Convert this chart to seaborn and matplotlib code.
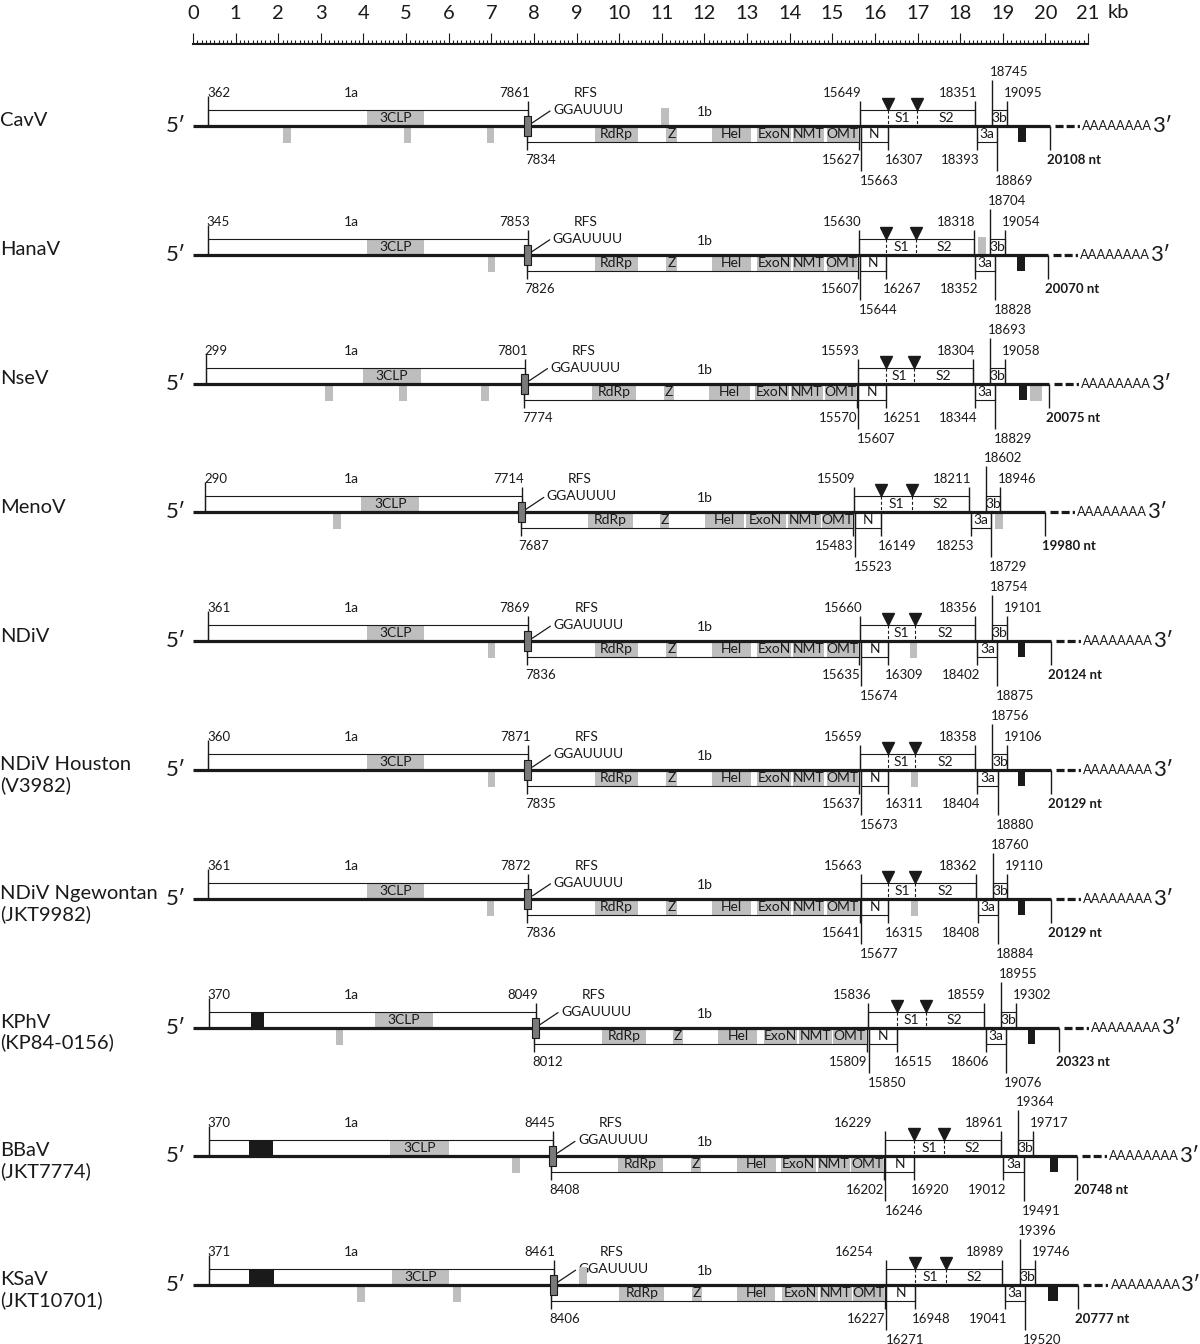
import matplotlib
matplotlib.use('Agg')
import matplotlib.pyplot as plt
from matplotlib.patches import Rectangle
import seaborn as sns

# genome coordinates (nt)
names = ['CavV', 'HanaV', 'NseV', 'MenoV', 'NDiV',
         'NDiV Houston\n(V3982)', 'NDiV Ngewontan\n(JKT9982)',
         'KPhV\n(KP84-0156)', 'BBaV\n(JKT7774)', 'KSaV\n(JKT10701)']
orf1a_start = [362, 345, 299, 290, 361, 360, 361, 370, 370, 371]
orf1a_end = [7861, 7853, 7801, 7714, 7869, 7871, 7872, 8049, 8445, 8461]
orf1b_start = [7834, 7826, 7774, 7687, 7836, 7835, 7836, 8012, 8408, 8406]
orf1b_end = [15627, 15607, 15570, 15483, 15635, 15637, 15641, 15809, 16202, 16227]
s_start = [15649, 15630, 15593, 15509, 15660, 15659, 15663, 15836, 16229, 16254]
s_end = [18351, 18318, 18304, 18211, 18356, 18358, 18362, 18559, 18961, 18989]
n_start = [15663, 15644, 15607, 15523, 15674, 15673, 15677, 15850, 16246, 16271]
n_end = [16307, 16267, 16251, 16149, 16309, 16311, 16315, 16515, 16920, 16948]
s1s2_site = [16980, 16960, 16920, 16870, 16950, 16950, 16950, 17190, 17620, 17660]
orf3a_start = [18393, 18352, 18344, 18253, 18402, 18404, 18408, 18606, 19012, 19041]
orf3a_end = [18869, 18828, 18829, 18729, 18875, 18880, 18884, 19076, 19491, 19520]
orf3b_start = [18745, 18704, 18693, 18602, 18754, 18756, 18760, 18955, 19364, 19396]
orf3b_end = [19095, 19054, 19058, 18946, 19101, 19106, 19110, 19302, 19717, 19746]
genome_len = [20108, 20070, 20075, 19980, 20124, 20129, 20129, 20323, 20748, 20777]

# domain extents (kb), estimated
clp_kb = [(4.08, 5.42), (4.08, 5.42), (4.00, 5.34), (3.95, 5.31), (4.08, 5.42),
          (4.08, 5.42), (4.08, 5.42), (4.28, 5.62), (4.63, 6.01), (4.67, 6.01)]
rdrp_kb = [(9.43, 10.44), (9.43, 10.44), (9.36, 10.39), (9.26, 10.32), (9.43, 10.44),
           (9.43, 10.44), (9.43, 10.44), (9.59, 10.63), (9.97, 11.03), (10.00, 11.06)]
zn_kb = [(11.10, 11.35), (11.10, 11.35), (11.05, 11.29), (10.95, 11.18), (11.10, 11.35),
         (11.10, 11.35), (11.10, 11.35), (11.27, 11.50), (11.69, 11.92), (11.71, 11.95)]
hel_kb = [(12.18, 13.09), (12.18, 13.09), (12.11, 13.07), (12.01, 12.92), (12.18, 13.09),
          (12.18, 13.09), (12.18, 13.09), (12.33, 13.24), (12.76, 13.67), (12.77, 13.66)]
exon_kb = [(13.24, 14.03), (13.24, 14.03), (13.19, 13.98), (12.97, 13.91), (13.24, 14.03),
           (13.24, 14.03), (13.24, 14.03), (13.40, 14.18), (13.79, 14.61), (13.82, 14.67)]
nmt_kb = [(14.08, 14.81), (14.08, 14.81), (14.03, 14.78), (13.95, 14.73), (14.08, 14.81),
          (14.08, 14.81), (14.08, 14.81), (14.23, 14.99), (14.66, 15.42), (14.70, 15.46)]
omt_kb = [(14.87, 15.60), (14.87, 15.58), (14.82, 15.55), (14.76, 15.46), (14.87, 15.61),
          (14.87, 15.61), (14.87, 15.62), (15.02, 15.78), (15.45, 16.18), (15.49, 16.21)]
domains_1b = [('RdRp', rdrp_kb), ('Z', zn_kb), ('Hel', hel_kb), ('ExoN', exon_kb),
              ('NMT', nmt_kb), ('OMT', omt_kb)]

# small markers (kb)
grey_below = [[(2.11, 2.30), (4.95, 5.12), (6.90, 7.06)],
              [(6.92, 7.09)],
              [(3.09, 3.28), (4.83, 5.02), (6.76, 6.95), (19.64, 19.92)],
              [(3.29, 3.47), (18.81, 19.00)],
              [(6.92, 7.09), (16.82, 16.99)],
              [(6.92, 7.09), (16.84, 17.01)],
              [(6.90, 7.07), (16.84, 17.01)],
              [(3.36, 3.51)],
              [(7.48, 7.68)],
              [(3.85, 4.04), (6.11, 6.29)]]
grey_above = [[(10.98, 11.17)], [(18.42, 18.61)], [], [], [], [], [], [], [], [(9.06, 9.25)]]
black_below = [[(19.36, 19.55)], [(19.33, 19.52)], [(19.39, 19.58)], [], [(19.36, 19.53)],
               [(19.36, 19.53)], [(19.36, 19.53)], [(19.59, 19.76)], [(20.11, 20.30)],
               [(20.06, 20.30)]]
black_in_1a = [[], [], [], [], [], [], [], [(1.35, 1.67)], [(1.32, 1.87)], [(1.32, 1.91)]]
s_label_shift = [2, 2, 2, 2, 2, 2, 2, 4, -12, -12]

ruler_ticks = list(range(0, 22))

sns.set_theme(style='white')
plt.rcParams['font.family'] = ['Lato', 'DejaVu Sans']
plt.rcParams['lines.scale_dashes'] = False

W, H = 1200, 1344
X0, X21 = 193, 1088
PX = (X21 - X0) / 21.0
INK = '#1a1a1a'
GREY = '#bebebe'
BOX = 16
NUM = 9.5
LAB = 10

fig = plt.figure(figsize=(W / 100, H / 100), dpi=100)
ax = fig.add_axes([0, 0, 1, 1])
ax.set_xlim(-X0 / PX, (W - X0) / PX)
ax.set_ylim(H, 0)
ax.axis('off')


def p(n):
    return n / PX


def box(x0, x1, top, fc='white', z=2, outline=True):
    ax.add_patch(Rectangle((x0, top), x1 - x0, BOX, fc=fc, ec='none', zorder=z))
    if outline:
        ax.add_patch(Rectangle((x0, top), x1 - x0, BOX, fill=False, ec=INK, lw=0.8, zorder=4))


def vline(x, ya, yb):
    ax.plot([x, x], [ya, yb], color=INK, lw=1.0, zorder=5, solid_capstyle='butt')


def txt(x, y, s, ha='center', size=NUM, **kw):
    ax.text(x, y, s, ha=ha, va='center', fontsize=size, color=INK, **kw)


for i, name in enumerate(names):
    y0 = 126 + i * 128.8
    L = genome_len[i] / 1000
    a0, a1 = orf1a_start[i] / 1000, orf1a_end[i] / 1000
    b0, b1 = orf1b_start[i] / 1000, orf1b_end[i] / 1000
    s0, s1 = s_start[i] / 1000, s_end[i] / 1000
    n0, n1 = n_start[i] / 1000, n_end[i] / 1000
    c0, c1 = orf3a_start[i] / 1000, orf3a_end[i] / 1000
    d0, d1 = orf3b_start[i] / 1000, orf3b_end[i] / 1000
    cut = s1s2_site[i] / 1000

    # name and 5' end
    if '\n' in name:
        ax.text(-X0 / PX, y0 + 5, name, ha='left', va='center', fontsize=14.5,
                color=INK, linespacing=1.2)
    else:
        ax.text(-X0 / PX, y0 - 5, name, ha='left', va='center', fontsize=14.5, color=INK)
    txt(p(-17), y0, '5\u2032', size=16)

    # backbone
    ax.plot([0, L], [y0, y0], color=INK, lw=2.3, zorder=6, solid_capstyle='butt')

    # ORF1a
    box(a0, a1, y0 - BOX, outline=False)
    g0, g1 = clp_kb[i]
    box(g0, g1, y0 - BOX, fc=GREY, z=3, outline=False)
    txt((g0 + g1) / 2, y0 - 8, '3CLP', size=LAB)
    for m0, m1 in black_in_1a[i]:
        box(m0, m1, y0 - BOX, fc=INK, z=3, outline=False)
    box(a0, a1, y0 - BOX, fc='none', z=1)
    vline(a0, y0 - 30, y0)
    vline(a1, y0 - 25, y0)
    txt(a0 - p(1), y0 - 33, str(orf1a_start[i]), ha='left')
    txt(a1 + p(2), y0 - 33, str(orf1a_end[i]), ha='right')
    txt(3.72, y0 - 33, '1a', size=LAB)

    # ORF1b
    box(b0, b1, y0, outline=False)
    for lab, ext in domains_1b:
        e0, e1 = ext[i]
        box(e0, e1, y0, fc=GREY, z=3, outline=False)
        txt((e0 + e1) / 2, y0 + 8, lab, size=LAB)
    box(b0, b1, y0, fc='none', z=1)
    vline(b0, y0, y0 + 24)
    vline(b1, y0, y0 + 24)
    txt(b0 - p(2), y0 + 34, str(orf1b_start[i]), ha='left')
    txt(b1 + p(1), y0 + 34, str(orf1b_end[i]), ha='right')
    txt(12.0, y0 - 14, '1b', size=LAB)

    # ribosomal frameshift site
    ax.add_patch(Rectangle((a1 - p(4), y0 - 10), p(7), 20, fc='#7a7a7a', ec=INK,
                           lw=0.8, zorder=7))
    ax.plot([a1 + p(4), a1 + p(22)], [y0 - 3, y0 - 15], color=INK, lw=0.9, zorder=7)
    txt(a1 + p(25), y0 - 16, 'GGAUUUU', ha='left', size=LAB)
    txt(a1 + p(58), y0 - 33, 'RFS', size=LAB)

    # spike
    box(s0, s1, y0 - BOX)
    vline(s0, y0 - 25, y0)
    vline(s1, y0 - 25, y0)
    txt(s0 + p(s_label_shift[i]), y0 - 33, str(s_start[i]), ha='right')
    txt(s1 + p(2), y0 - 33, str(s_end[i]), ha='right')
    for cx in (n1, cut):
        ax.plot([cx, cx], [y0 - BOX, y0], color=INK, lw=0.8, dashes=(2.2, 1.6), zorder=5)
        ax.plot([cx], [y0 - 22], marker='v', ms=9, color=INK, mec=INK, ls='none', zorder=6)
    txt((n1 + cut) / 2, y0 - 8, 'S1', size=LAB)
    txt((cut + s1) / 2, y0 - 8, 'S2', size=LAB)

    # nucleocapsid
    box(n0, n1, y0)
    txt((n0 + n1) / 2, y0 + 8, 'N', size=LAB)
    vline(n0, y0, y0 + 45)
    vline(n1, y0, y0 + 24)
    txt(n0 - p(1), y0 + 55, str(n_start[i]), ha='left')
    txt(n1 - p(3), y0 + 34, str(n_end[i]), ha='left')

    # ORF3a / ORF3b
    box(c0, c1, y0)
    txt((c0 + c1) / 2, y0 + 8, '3a', size=LAB)
    vline(c0, y0, y0 + 24)
    vline(c1, y0, y0 + 45)
    txt(c0 + p(3), y0 + 34, str(orf3a_start[i]), ha='right')
    txt(c1 - p(2), y0 + 55, str(orf3a_end[i]), ha='left')
    box(d0, d1, y0 - BOX)
    txt((d0 + d1) / 2, y0 - 8, '3b', size=LAB)
    vline(d0, y0 - 46, y0)
    vline(d1, y0 - 25, y0)
    txt(d0 - p(2), y0 - 54, str(orf3b_start[i]), ha='left')
    txt(d1 - p(3), y0 - 33, str(orf3b_end[i]), ha='left')

    # markers
    for m0, m1 in grey_below[i]:
        ax.add_patch(Rectangle((m0, y0), m1 - m0, 17, fc=GREY, ec='none', zorder=3))
    for m0, m1 in grey_above[i]:
        ax.add_patch(Rectangle((m0, y0 - 18), m1 - m0, 18, fc=GREY, ec='none', zorder=3))
    for m0, m1 in black_below[i]:
        ax.add_patch(Rectangle((m0, y0), m1 - m0, 16, fc=INK, ec='none', zorder=3))

    # 3' end
    vline(L, y0, y0 + 24)
    txt(L - p(3), y0 + 34, f'{genome_len[i]} nt', ha='left', fontweight='bold')
    ax.plot([L + p(5), L + p(30)], [y0, y0], color=INK, lw=2.3,
            dashes=(5.8, 2.2, 5.8, 2.2, 1.6, 30), zorder=6)
    txt(L + p(32), y0, 'AAAAAAAA', ha='left', size=9.3)
    txt(L + p(102), y0, '3\u2032', ha='left', size=16)

# kb ruler
axr = fig.add_axes([X0 / W, 1 - 44 / H, (X21 - X0) / W, 11 / H])
axr.set_xlim(ruler_ticks[0], ruler_ticks[-1])
axr.set_ylim(0, 1)
axr.patch.set_alpha(0)
sns.despine(ax=axr, left=True)
axr.set_yticks([])
axr.set_xticks(ruler_ticks)
axr.set_xticklabels([str(t) for t in ruler_ticks])
axr.set_xticks([t / 10 for t in range(0, 211)], minor=True)
axr.tick_params(axis='x', which='both', direction='in', bottom=True, top=False,
                labelbottom=False, labeltop=True, color=INK, width=0.8)
axr.tick_params(axis='x', which='major', length=8, pad=8, labelsize=14.5, labelcolor=INK)
axr.tick_params(axis='x', which='minor', length=2.9)
axr.spines['bottom'].set_linewidth(1.5)
axr.spines['bottom'].set_color(INK)
ax.text(21.45, 12, 'kb', ha='left', va='center', fontsize=14.5, color=INK)

fig.savefig('out.png', dpi=100)
